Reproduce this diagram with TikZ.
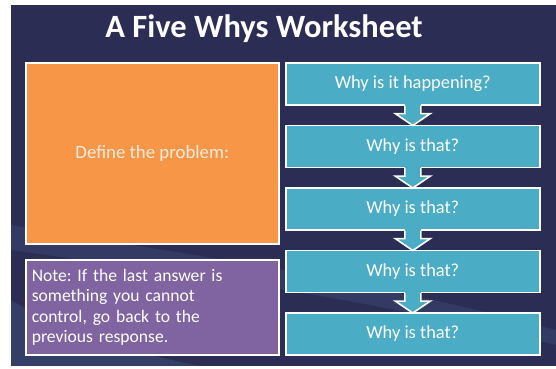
\documentclass[tikz,border=0pt]{standalone}
\usepackage{fontspec}
\setmainfont{Carlito}
\usetikzlibrary{calc}
\definecolor{navy}{RGB}{43,45,84}
\definecolor{swoosh}{RGB}{90,125,175}
\definecolor{orangebox}{RGB}{247,150,70}
\definecolor{purplebox}{RGB}{128,100,162}
\definecolor{cyanbox}{RGB}{75,172,198}
\definecolor{cream}{RGB}{253,236,222}
\frenchspacing
\begin{document}
\begin{tikzpicture}[x=1pt,y=-1pt,
  panel/.style={draw=white, line width=1.6pt, anchor=north west, inner sep=0pt},
  whybox/.style={panel, fill=cyanbox, minimum width=254pt, minimum height=42pt,
    text=white, font=\fontsize{18.4}{22}\selectfont},
  arrowfill/.style={fill=cyanbox},
  arrowline/.style={draw=white, line width=1.6pt, line join=miter}]

% page and slide background
\useasboundingbox (0,0) rectangle (556,368);
\fill[white] (0,0) rectangle (556,368);
\fill[navy] (11,5) rectangle (556,366);
\begin{scope}
  \clip (11,5) rectangle (556,366);
  \fill[swoosh, opacity=0.18] (11,225) .. controls (150,250) and (330,270) .. (556,330)
    -- (556,345) .. controls (330,290) and (150,270) .. (11,250) -- cycle;
  \fill[swoosh, opacity=0.22] (11,300) .. controls (60,330) and (120,350) .. (200,366)
    -- (11,366) -- cycle;
\end{scope}

% title
\node[anchor=base, text=white, font=\bfseries\fontsize{32.5}{38}\selectfont]
  (title) at (264,37.5) {A Five Whys Worksheet};

% left panels
\node[panel, fill=orangebox, minimum width=253pt, minimum height=181pt,
  text=cream, font=\fontsize{18.8}{22}\selectfont]
  (problem) at (25,62) {Define the problem:};
\node[panel, fill=purplebox, minimum width=253pt, minimum height=95pt,
  text=white, font=\fontsize{17.6}{20.5}\selectfont, align=left,
  text width=241pt, inner xsep=6pt]
  (note) at (25,259) {Note: If the last answer is\\something you cannot\\control, go back to the\\previous response.};

% the chain of whys
\node[whybox] (w1) at (285,62)    {Why is it happening?};
\node[whybox] (w2) at (285,124.5) {Why is that?};
\node[whybox] (w3) at (285,187)   {Why is that?};
\node[whybox] (w4) at (285,249.5) {Why is that?};
\node[whybox] (w5) at (285,312)   {Why is that?};

% block arrows between consecutive whys
\foreach \a/\b in {w1/w2, w2/w3, w3/w4, w4/w5}{
  \fill[arrowfill] ($(\a.south)+(-8,-2)$) -- ($(\a.south)+(-8,8)$)
    -- ($(\a.south)+(-17.5,8)$) -- ($(\b.north)+(0,1)$)
    -- ($(\a.south)+(17.5,8)$) -- ($(\a.south)+(8,8)$)
    -- ($(\a.south)+(8,-2)$) -- cycle;
  \draw[arrowline] ($(\a.south)+(-8,0)$) -- ($(\a.south)+(-8,8)$)
    -- ($(\a.south)+(-17.5,8)$) -- ($(\b.north)+(0,1)$)
    -- ($(\a.south)+(17.5,8)$) -- ($(\a.south)+(8,8)$)
    -- ($(\a.south)+(8,0)$);
}
\end{tikzpicture}
\end{document}
